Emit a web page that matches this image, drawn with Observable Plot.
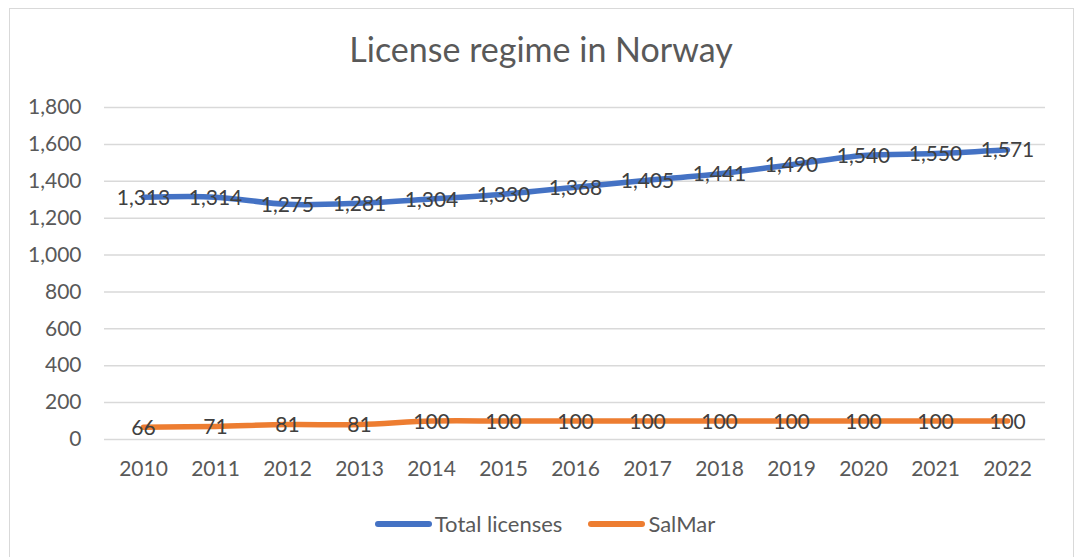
<!DOCTYPE html>
<html>
<head>
<meta charset="utf-8">
<script src="https://cdn.jsdelivr.net/npm/d3@7"></script>
<script src="https://cdn.jsdelivr.net/npm/@observablehq/plot@0.6"></script>
<style>
  html, body { margin: 0; padding: 0; background: #fff; }
  body { width: 1077px; height: 557px; position: relative; overflow: hidden; font-family: Lato, "Open Sans", sans-serif; }
  #frame { position: absolute; left: 9px; top: 8px; width: 1065px; height: 570px; border: 1px solid #d9d9d9; box-sizing: border-box; }
  #title { position: absolute; left: 0; width: 1082px; top: 29px; text-align: center; font-size: 34px; line-height: 40px; color: #595959; }
  #chart { position: absolute; left: 0; top: 0; }
  #legend { position: absolute; left: 0; width: 1090px; top: 509px; display: flex; justify-content: center; align-items: center; font-size: 22px; line-height: 30px; color: #595959; }
  .item { display: flex; align-items: center; margin: 0 13px; }
  .sw { width: 57px; height: 5.5px; border-radius: 3px; margin-right: 3px; }
</style>
</head>
<body>
<div id="frame"></div>
<div id="chart"></div>
<div id="title">License regime in Norway</div>
<div id="legend"></div>
<script>
const years = ["2010","2011","2012","2013","2014","2015","2016","2017","2018","2019","2020","2021","2022"];
const totalLicenses = [1313,1314,1275,1281,1304,1330,1368,1405,1441,1490,1540,1550,1571];
const salmar = [66,71,81,81,100,100,100,100,100,100,100,100,100];
const seriesNames = ["Total licenses", "SalMar"];
const seriesColors = ["#4472C4", "#ED7D31"];
const yTicks = [0,200,400,600,800,1000,1200,1400,1600,1800];

const rows = [];
years.forEach((y, i) => {
  rows.push({year: y, value: totalLicenses[i], series: seriesNames[0]});
  rows.push({year: y, value: salmar[i], series: seriesNames[1]});
});

const fmt = d3.format(",");
const plot = Plot.plot({
  width: 1077,
  height: 490,
  marginLeft: 104,
  marginRight: 32,
  marginTop: 107,
  marginBottom: 51,
  style: {fontFamily: "Lato, 'Open Sans', sans-serif", background: "transparent", overflow: "visible"},
  x: {type: "point", domain: years, padding: 0.5, label: null},
  y: {domain: [0, 1800], label: null},
  color: {domain: seriesNames, range: seriesColors},
  marks: [
    Plot.gridY(yTicks, {stroke: "#d9d9d9", strokeOpacity: 1, strokeWidth: 1.5}),
    Plot.axisY(yTicks, {tickSize: 0, tickPadding: 23, tickFormat: fmt, fontSize: 21, fill: "#595959", label: null}),
    Plot.axisX({tickSize: 0, tickPadding: 22, fontSize: 21, fill: "#595959", label: null}),
    Plot.line(rows, {x: "year", y: "value", z: "series", stroke: "series", strokeWidth: 5.5, curve: "catmull-rom", strokeLinecap: "round", strokeLinejoin: "round"}),
    Plot.text(rows, {x: "year", y: "value", text: d => fmt(d.value), fontSize: 21, fill: "#404040", dy: 1})
  ]
});
document.getElementById("chart").appendChild(plot);

const legend = document.getElementById("legend");
seriesNames.forEach((n, i) => {
  const item = document.createElement("div");
  item.className = "item";
  const sw = document.createElement("div");
  sw.className = "sw";
  sw.style.background = seriesColors[i];
  const t = document.createElement("span");
  t.textContent = n;
  item.appendChild(sw); item.appendChild(t);
  legend.appendChild(item);
});
</script>
</body>
</html>
